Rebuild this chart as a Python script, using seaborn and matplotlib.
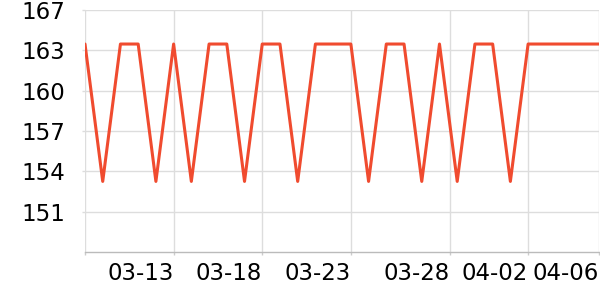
import matplotlib
matplotlib.use("Agg")
import matplotlib.pyplot as plt
import seaborn as sns
import pandas as pd
import numpy as np

# ---- data ----
dates = pd.date_range("2024-03-08", "2024-04-06", freq="D")
HI, LO = 164.3, 153.4
values = [HI, LO, HI, HI, LO, HI, LO, HI, HI, LO,
          HI, HI, LO, HI, HI, HI, LO, HI, HI, LO,
          HI, LO, HI, HI, LO, HI, HI, HI, HI, HI]
ytick_vals = [151.0, 154.2, 157.4, 160.6, 163.8, 167.0]
ytick_labels = ["151", "154", "157", "160", "163", "167"]
xtick_dates = ["2024-03-08 00:00", "2024-03-13 00:00", "2024-03-18 00:00",
               "2024-03-23 00:00", "2024-03-28 14:30", "2024-04-02 00:00",
               "2024-04-06 00:00"]
xtick_labels = ["", "03-13", "03-18", "03-23", "03-28", "04-02", "04-06"]

df = pd.DataFrame({"date": dates, "value": values})

sns.set_theme(style="white")
plt.rcParams["font.family"] = ["DejaVu Sans"]

fig = plt.figure(figsize=(6, 3), dpi=100)
ax = fig.add_axes([85 / 600, 1 - 252 / 300, 514 / 600, 242 / 300])

sns.lineplot(data=df, x="date", y="value", ax=ax, color="#f04b2f",
             linewidth=2.2, solid_joinstyle="round")

ax.set_xlim(dates[0], dates[-1])
ax.set_ylim(147.8, 167.0)
ax.set_yticks(ytick_vals)
ax.set_yticklabels(ytick_labels)
ax.set_xticks(pd.to_datetime(xtick_dates, format="%Y-%m-%d %H:%M"))
ax.set_xticklabels(xtick_labels, ha="right")

ax.grid(True, color="#dddddd", linewidth=1)
for s in ["top", "right", "left"]:
    ax.spines[s].set_visible(False)
ax.spines["bottom"].set_color("#bbbbbb")
ax.spines["bottom"].set_linewidth(1)

ax.tick_params(axis="y", length=2.2, width=1, color="#dddddd",
               labelsize=16.5, pad=12, labelcolor="black", left=True)
ax.tick_params(axis="x", length=2.5, width=1, color="#cccccc",
               labelsize=16.5, pad=5, labelcolor="black", bottom=True)
ax.set_xlabel("")
ax.set_ylabel("")

fig.savefig("out.png", dpi=100)
